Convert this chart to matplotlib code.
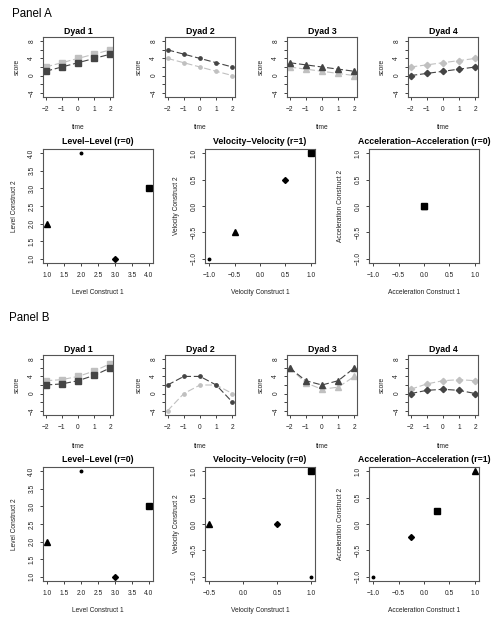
import matplotlib
matplotlib.use("Agg")
import matplotlib.pyplot as plt
import numpy as np

plt.rcParams['font.family'] = ['Liberation Sans', 'DejaVu Sans']

# ---------------- data ----------------
time = [-2, -1, 0, 1, 2]
dyad_titles = ["Dyad 1", "Dyad 2", "Dyad 3", "Dyad 4"]

# Panel A trajectories (dark = construct 2, light = construct 1)
a_dark = [[1, 2, 3, 4, 5],
          [6, 5, 4, 3, 2],
          [3, 2.5, 2, 1.5, 1],
          [0, 0.5, 1, 1.5, 2]]
a_light = [[2, 3, 4, 5, 6],
           [4, 3, 2, 1, 0],
           [2, 1.5, 1, 0.5, 0],
           [2, 2.5, 3, 3.5, 4]]

# Panel B trajectories
b_dark = [[2, 2.25, 3, 4.25, 6],
          [2, 4, 4, 2, -2],
          [6, 3, 2, 3, 6],
          [0, 0.75, 1, 0.75, 0]]
b_light = [[3, 3.25, 4, 5.25, 7],
           [-4, 0, 2, 2, 0],
           [6, 2.5, 1, 1.5, 4],
           [1, 2.25, 3, 3.25, 3]]

# Scatter values (dyad order 1..4)
a_level_c1 = [4, 2, 1, 3]
a_level_c2 = [3, 4, 2, 1]
a_vel_c1 = [1, -1, -0.5, 0.5]
a_vel_c2 = [1, -1, -0.5, 0.5]
a_acc_c1 = [0, 0, 0, 0]
a_acc_c2 = [0, 0, 0, 0]

b_level_c1 = [4, 2, 1, 3]
b_level_c2 = [3, 4, 2, 1]
b_vel_c1 = [1, 1, -0.5, 0.5]
b_vel_c2 = [1, -1, 0, 0]
b_acc_c1 = [0.25, -1, 1, -0.25]
b_acc_c2 = [0.25, -1, 1, -0.25]

scatter_titles = ["Level\u2013Level (r=0)", "Velocity\u2013Velocity (r=1)",
                  "Acceleration\u2013Acceleration (r=0)"]
scatter_titles_b = ["Level\u2013Level (r=0)", "Velocity\u2013Velocity (r=0)",
                    "Acceleration\u2013Acceleration (r=1)"]
scatter_xlabels = ["Level Construct 1", "Velocity Construct 1", "Acceleration Construct 1"]
scatter_ylabels = ["Level Construct 2", "Velocity Construct 2", "Acceleration Construct 2"]

# ---------------- style ----------------
W, H = 495, 623
DARK = '#444444'
LIGHT = '#c0c0c0'
BOX = '#555555'
markers = ['s', 'o', '^', 'D']
dyad_ms = [4.8, 2.4, 5.0, 3.2]
scat_ms = [4.0, 1.8, 4.6, 3.0]

fig = plt.figure(figsize=(W / 100, H / 100), dpi=100)


def add_ax(left, top, w, h):
    return fig.add_axes([left / W, 1 - (top + h) / H, w / W, h / H])


def style(ax, w, h, title, xlabel, ylabel, tpad, xlpad, ylpad):
    for sp in ax.spines.values():
        sp.set_color(BOX)
        sp.set_linewidth(0.8)
    ax.tick_params(length=2.5, width=0.6, color='#222222', labelsize=4.8,
                   labelcolor='#222222')
    ax.tick_params(axis='x', pad=3.8)
    ax.tick_params(axis='y', pad=3.0, labelrotation=90)
    for lb in ax.get_yticklabels():
        lb.set_va('center')
    ax.text(0.5, 1 + tpad / h, title, transform=ax.transAxes, ha='center',
            va='center', fontsize=6.3, fontweight='bold')
    ax.text(0.5, -xlpad / h, xlabel, transform=ax.transAxes, ha='center',
            va='center', fontsize=4.8, color='#222222')
    ax.text(-ylpad / w, 0.5, ylabel, transform=ax.transAxes, ha='center',
            va='center', rotation=90, fontsize=4.8, color='#222222')


def dyad_row(top, h, dark, light):
    lefts = [43, 165, 287, 408]
    for i in range(4):
        ax = add_ax(lefts[i], top, 70, h)
        ax.plot(time, light[i], color=LIGHT, lw=0.8, dashes=(6, 2.5),
                marker=markers[i], ms=dyad_ms[i], mec=LIGHT, mfc=LIGHT)
        ax.plot(time, dark[i], color=DARK, lw=0.8, dashes=(6, 2.5),
                marker=markers[i], ms=dyad_ms[i], mec=DARK, mfc=DARK)
        ax.set_xlim(-2.16, 2.16)
        ax.set_ylim(-5, 9)
        ax.set_xticks(time)
        ax.set_xticklabels([str(t).replace('-', '\u2212') for t in time])
        yt = [-4, -2, 0, 2, 4, 6, 8]
        ax.set_yticks(yt)
        ax.set_yticklabels([str(v).replace('-', '\u2212') if v % 4 == 0 else '' for v in yt])
        style(ax, 70, h, dyad_titles[i], "time", "score", 6, 31, 26)


def expand(lo, hi):
    d = (hi - lo) * 0.04
    return lo - d, hi + d


def scatter_row(top, xs, ys, ranges, titles):
    lefts = [43, 205, 369]
    h = 114
    for j in range(3):
        ax = add_ax(lefts[j], top, 110, h)
        for k in [3, 2, 1, 0]:
            ax.plot([xs[j][k]], [ys[j][k]], linestyle='none', marker=markers[k],
                    ms=scat_ms[k], color='black')
        (xlo, xhi), (ylo, yhi) = ranges[j]
        ax.set_xlim(*expand(xlo, xhi))
        ax.set_ylim(*expand(ylo, yhi))
        xt = np.arange(xlo, xhi + 0.01, 0.5)
        yt = np.arange(ylo, yhi + 0.01, 0.5)
        ax.set_xticks(xt)
        ax.set_xticklabels([f"{v:.1f}".replace('-', '\u2212') for v in xt])
        ax.set_yticks(yt)
        ax.set_yticklabels([f"{v:.1f}".replace('-', '\u2212') for v in yt])
        style(ax, 110, h, titles[j], scatter_xlabels[j], scatter_ylabels[j], 8, 29, 28)


# Panel A
fig.text(12 / W, 1 - 14 / H, "Panel A", fontsize=8.3, ha='left', va='center')
dyad_row(37, 60, a_dark, a_light)
scatter_row(149,
            [a_level_c1, a_vel_c1, a_acc_c1],
            [a_level_c2, a_vel_c2, a_acc_c2],
            [((1, 4), (1, 4)), ((-1, 1), (-1, 1)), ((-1, 1), (-1, 1))],
            scatter_titles)

# Panel B
fig.text(9 / W, 1 - 318 / H, "Panel B", fontsize=8.3, ha='left', va='center')
dyad_row(355, 60, b_dark, b_light)
scatter_row(467,
            [b_level_c1, b_vel_c1, b_acc_c1],
            [b_level_c2, b_vel_c2, b_acc_c2],
            [((1, 4), (1, 4)), ((-0.5, 1), (-1, 1)), ((-1, 1), (-1, 1))],
            scatter_titles_b)

fig.savefig("out.png", dpi=100)
